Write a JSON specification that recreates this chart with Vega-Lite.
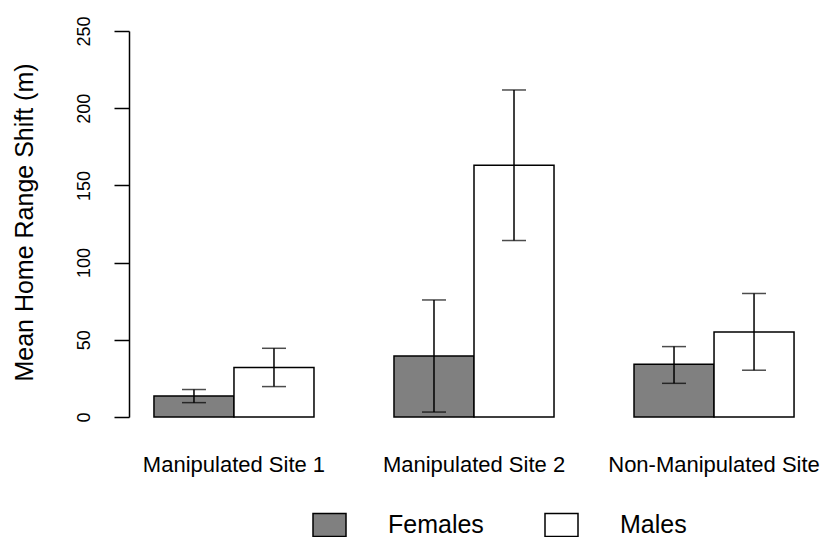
{
  "$schema": "https://vega.github.io/schema/vega-lite/v6.json",
  "width": 690,
  "height": 386,
  "autosize": {"type": "none"},
  "padding": {"left": 129, "top": 31, "right": 3, "bottom": 120},
  "background": "white",
  "config": {"view": {"stroke": null}, "font": "Liberation Sans", "axis": {"grid": false}},
  "data": {
    "values": [
      {"site": "Manipulated Site 1", "sex": "Females", "mean": 13.6, "lo": 9.3, "hi": 17.8},
      {"site": "Manipulated Site 1", "sex": "Males", "mean": 32.0, "lo": 19.7, "hi": 44.5},
      {"site": "Manipulated Site 2", "sex": "Females", "mean": 39.5, "lo": 3.2, "hi": 75.8},
      {"site": "Manipulated Site 2", "sex": "Males", "mean": 163.0, "lo": 114.3, "hi": 211.8},
      {"site": "Non-Manipulated Site", "sex": "Females", "mean": 34.2, "lo": 21.8, "hi": 45.6},
      {"site": "Non-Manipulated Site", "sex": "Males", "mean": 55.1, "lo": 30.3, "hi": 80.0}
    ]
  },
  "encoding": {
    "x": {
      "field": "site",
      "type": "nominal",
      "sort": ["Manipulated Site 1", "Manipulated Site 2", "Non-Manipulated Site"],
      "scale": {"paddingInner": 0.3333, "paddingOuter": 0.104},
      "axis": {
        "title": null,
        "domain": false,
        "ticks": false,
        "labelAngle": 0,
        "labelFontSize": 22,
        "labelColor": "black",
        "labelBaseline": "alphabetic",
        "labelPadding": 54,
        "labelLimit": 0,
        "labelOverlap": false,
        "labelBound": false
      }
    },
    "xOffset": {
      "field": "sex",
      "type": "nominal",
      "sort": ["Females", "Males"],
      "scale": {"paddingInner": 0, "paddingOuter": 0}
    }
  },
  "layer": [
    {
      "mark": {"type": "bar", "stroke": "black", "strokeWidth": 1.5},
      "encoding": {
        "y": {
          "field": "mean",
          "type": "quantitative",
          "scale": {"domain": [0, 250], "nice": false},
          "axis": {
            "title": "Mean Home Range Shift (m)",
            "values": [0, 50, 100, 150, 200, 250],
            "tickSize": 15,
            "tickColor": "black",
            "tickWidth": 1.5,
            "domainColor": "black",
            "domainWidth": 1.5,
            "labelAngle": -90,
            "labelAlign": "center",
            "labelBaseline": "alphabetic",
            "labelFontSize": 18,
            "labelPadding": 25,
            "labelColor": "black",
            "titleFontSize": 25,
            "titleFontWeight": "normal",
            "titleColor": "black",
            "titleAngle": -90,
            "titleAlign": "center",
            "titleBaseline": "alphabetic",
            "titleX": -97,
            "titleY": 191
          }
        },
        "fill": {
          "field": "sex",
          "type": "nominal",
          "scale": {"domain": ["Females", "Males"], "range": ["#808080", "#ffffff"]},
          "legend": {
            "title": null,
            "orient": "none",
            "legendX": 183,
            "legendY": 476,
            "direction": "horizontal",
            "columns": 2,
            "columnPadding": 58,
            "symbolType": "M-1,-0.7H1V0.7H-1Z",
            "symbolSize": 1089,
            "symbolStrokeColor": "black",
            "symbolStrokeWidth": 1.5,
            "symbolOpacity": 1,
            "labelFontSize": 25,
            "labelOffset": 41,
            "labelColor": "black",
            "padding": 0
          }
        }
      }
    },
    {
      "mark": {"type": "rule", "color": "black", "strokeWidth": 1.5},
      "encoding": {
        "y": {"field": "lo", "type": "quantitative"},
        "y2": {"field": "hi"}
      }
    },
    {
      "mark": {"type": "tick", "color": "black", "thickness": 1.5, "size": 24},
      "encoding": {"y": {"field": "lo", "type": "quantitative"}}
    },
    {
      "mark": {"type": "tick", "color": "black", "thickness": 1.5, "size": 24},
      "encoding": {"y": {"field": "hi", "type": "quantitative"}}
    }
  ]
}
